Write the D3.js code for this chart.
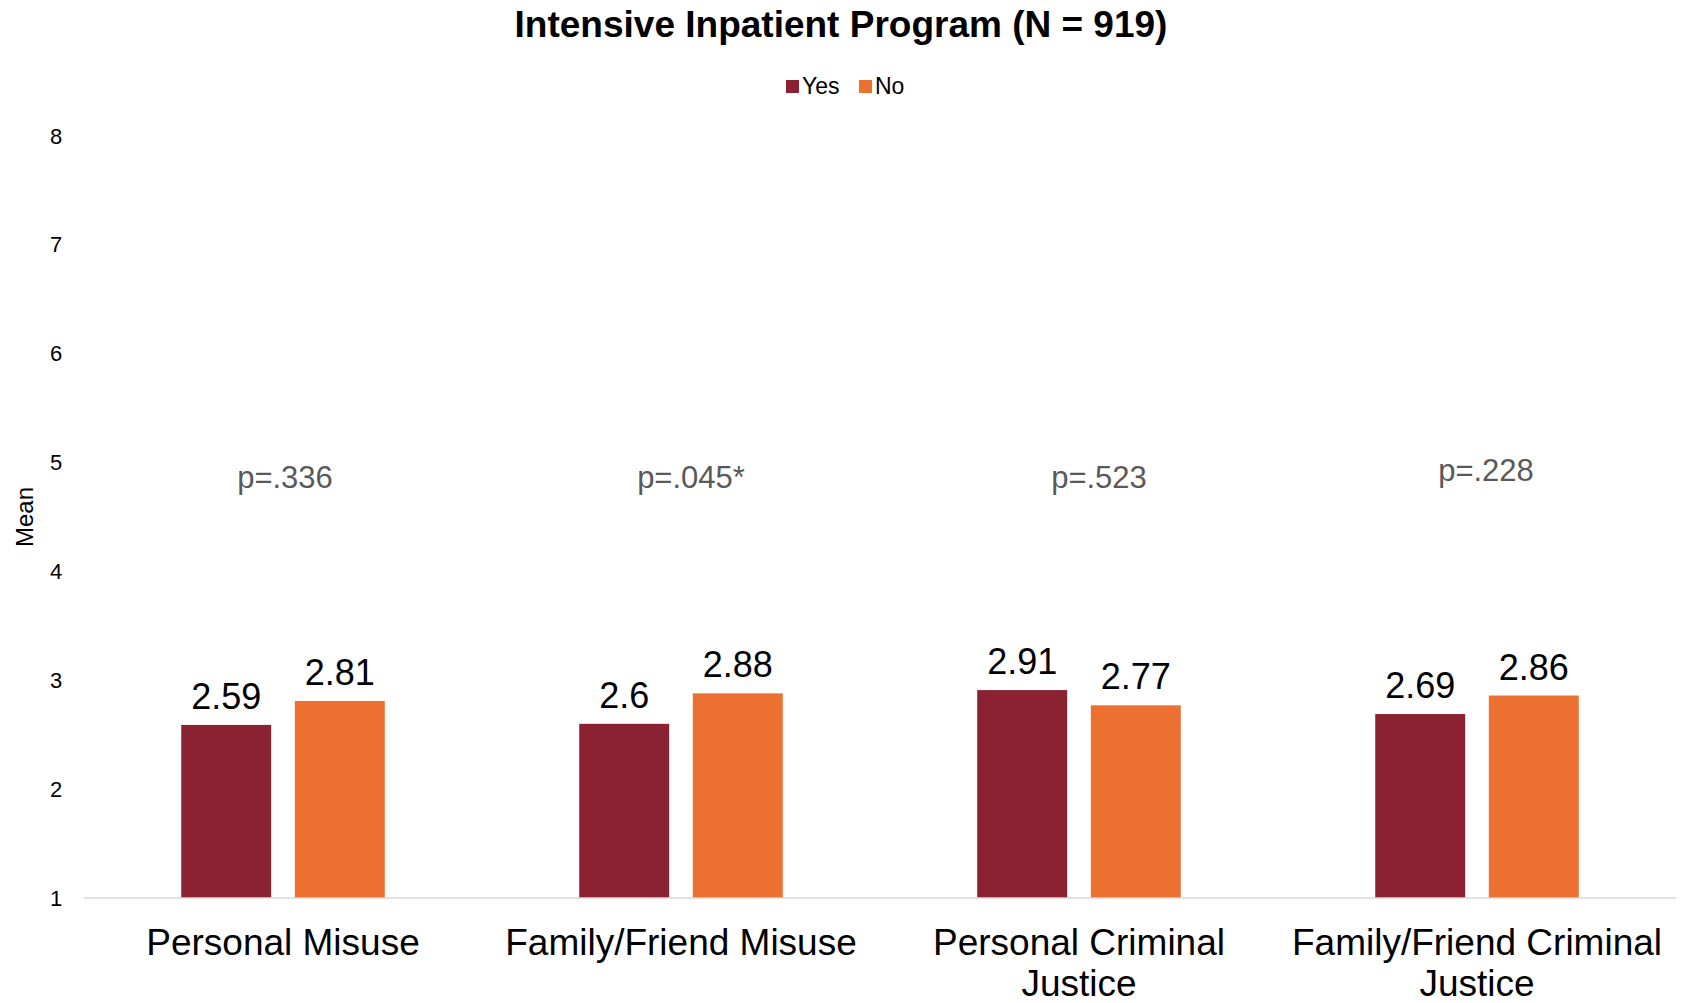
<!DOCTYPE html>
<html lang="en">
<head>
<meta charset="utf-8">
<title>Intensive Inpatient Program</title>
<script src="https://cdnjs.cloudflare.com/ajax/libs/d3/7.8.5/d3.min.js"></script>
<style>
  body { margin: 0; background: #fff; }
  svg { display: block; font-family: "Liberation Sans", Arial, sans-serif; }
</style>
</head>
<body>
<div id="chart"></div>
<script>
// chart values
const categories = ["Personal Misuse", "Family/Friend Misuse", "Personal Criminal Justice", "Family/Friend Criminal Justice"];
const seriesNames = ["Yes", "No"];
const yesValues = [2.59, 2.6, 2.91, 2.69];
const noValues = [2.81, 2.88, 2.77, 2.86];
const pLabels = ["p=.336", "p=.045*", "p=.523", "p=.228"];
const yTicks = [1, 2, 3, 4, 5, 6, 7, 8];

const w = 1681, h = 1003;
const colors = { Yes: "#8B2232", No: "#EC7130" };

const rows = categories.map((c, i) => ({ cat: c, Yes: yesValues[i], No: noValues[i] }));

const svg = d3.select("#chart").append("svg")
  .attr("width", w)
  .attr("height", h);

const x = d3.scaleBand()
  .domain(categories)
  .range([84, 1676])
  .padding(0);

const xInner = d3.scaleBand()
  .domain(seriesNames)
  .range([0, x.bandwidth()])
  .paddingInner(0.208)
  .paddingOuter(0.856);

const y = d3.scaleLinear()
  .domain([1, 8])
  .range([898, 136]);

// y tick labels (no axis line in the original)
const yAxis = d3.axisLeft(y).tickValues(yTicks).tickFormat(d3.format("d")).tickSize(0).tickPadding(0);
const gy = svg.append("g")
  .attr("transform", "translate(62,0)")
  .call(yAxis);
gy.select(".domain").remove();
gy.selectAll("text")
  .attr("text-anchor", "middle")
  .attr("x", -6)
  .style("font-size", "22px")
  .style("font-family", "'Liberation Sans', Arial, sans-serif")
  .style("fill", "#000");

svg.append("text")
  .attr("transform", "translate(33," + ((y(1) + y(8)) / 2) + ") rotate(-90)")
  .attr("text-anchor", "middle")
  .style("font-size", "24px")
  .style("fill", "#000")
  .text("Mean");

// bars
const groups = svg.selectAll(".grp")
  .data(rows)
  .enter()
  .append("g")
  .attr("class", "grp")
  .attr("transform", d => "translate(" + x(d.cat) + ",0)");

groups.selectAll("rect")
  .data(d => seriesNames.map(s => ({ s: s, v: d[s] })))
  .enter()
  .append("rect")
  .attr("x", d => xInner(d.s))
  .attr("width", xInner.bandwidth())
  .attr("y", d => y(d.v))
  .attr("height", d => y(1) - y(d.v))
  .attr("fill", d => colors[d.s]);

groups.selectAll(".val")
  .data(d => seriesNames.map(s => ({ s: s, v: d[s] })))
  .enter()
  .append("text")
  .attr("class", "val")
  .attr("x", d => xInner(d.s) + xInner.bandwidth() / 2)
  .attr("y", d => y(d.v) - 16)
  .attr("text-anchor", "middle")
  .style("font-size", "36px")
  .style("fill", "#000")
  .text(d => d.v);

// baseline
svg.append("line")
  .attr("x1", x.range()[0])
  .attr("x2", x.range()[1])
  .attr("y1", y(1))
  .attr("y2", y(1))
  .attr("stroke", "#D9D9D9")
  .attr("stroke-width", 1.5);

// p-value notes
const pNudgeX = [2, 10, 20, 9];
const pNudgeY = [0, 0, 0, -7];
svg.selectAll(".pval")
  .data(pLabels)
  .enter()
  .append("text")
  .attr("class", "pval")
  .attr("x", (d, i) => x(categories[i]) + x.bandwidth() / 2 + pNudgeX[i])
  .attr("y", (d, i) => y(4.87) + 11 + pNudgeY[i])
  .attr("text-anchor", "middle")
  .style("font-size", "31px")
  .style("fill", "#595959")
  .text(d => d);

// category labels, wrapped to band width
svg.selectAll(".cat")
  .data(categories)
  .enter()
  .append("text")
  .attr("class", "cat")
  .attr("x", d => x(d) + x.bandwidth() / 2)
  .attr("y", 955)
  .attr("text-anchor", "middle")
  .style("font-size", "37px")
  .style("fill", "#000")
  .each(function (d) {
    const t = d3.select(this);
    const words = d.split(" ");
    let line = [];
    let tspan = t.append("tspan").attr("x", x(d) + x.bandwidth() / 2).attr("dy", 0);
    words.forEach(word => {
      line.push(word);
      tspan.text(line.join(" "));
      if (tspan.node().getComputedTextLength() > x.bandwidth() - 10 && line.length > 1) {
        line.pop();
        tspan.text(line.join(" "));
        line = [word];
        tspan = t.append("tspan")
          .attr("x", x(d) + x.bandwidth() / 2)
          .attr("dy", 41)
          .text(word);
      }
    });
  });

// title
svg.append("text")
  .attr("x", 841)
  .attr("y", 37)
  .attr("text-anchor", "middle")
  .style("font-size", "37px")
  .style("font-weight", "bold")
  .style("fill", "#000")
  .text("Intensive Inpatient Program (N = 919)");

// legend
const legend = svg.append("g").attr("id", "legend");
const legendX = { Yes: 786, No: 859 };
const leg = legend.selectAll(".legend-item")
  .data(seriesNames)
  .enter()
  .append("g")
  .attr("class", "legend-item")
  .attr("transform", d => "translate(" + legendX[d] + ",80)");
leg.append("rect")
  .attr("width", 13)
  .attr("height", 13)
  .attr("fill", d => colors[d]);
leg.append("text")
  .attr("x", 16)
  .attr("y", 14)
  .style("font-size", "23px")
  .style("fill", "#000")
  .text(d => d);
</script>
</body>
</html>
